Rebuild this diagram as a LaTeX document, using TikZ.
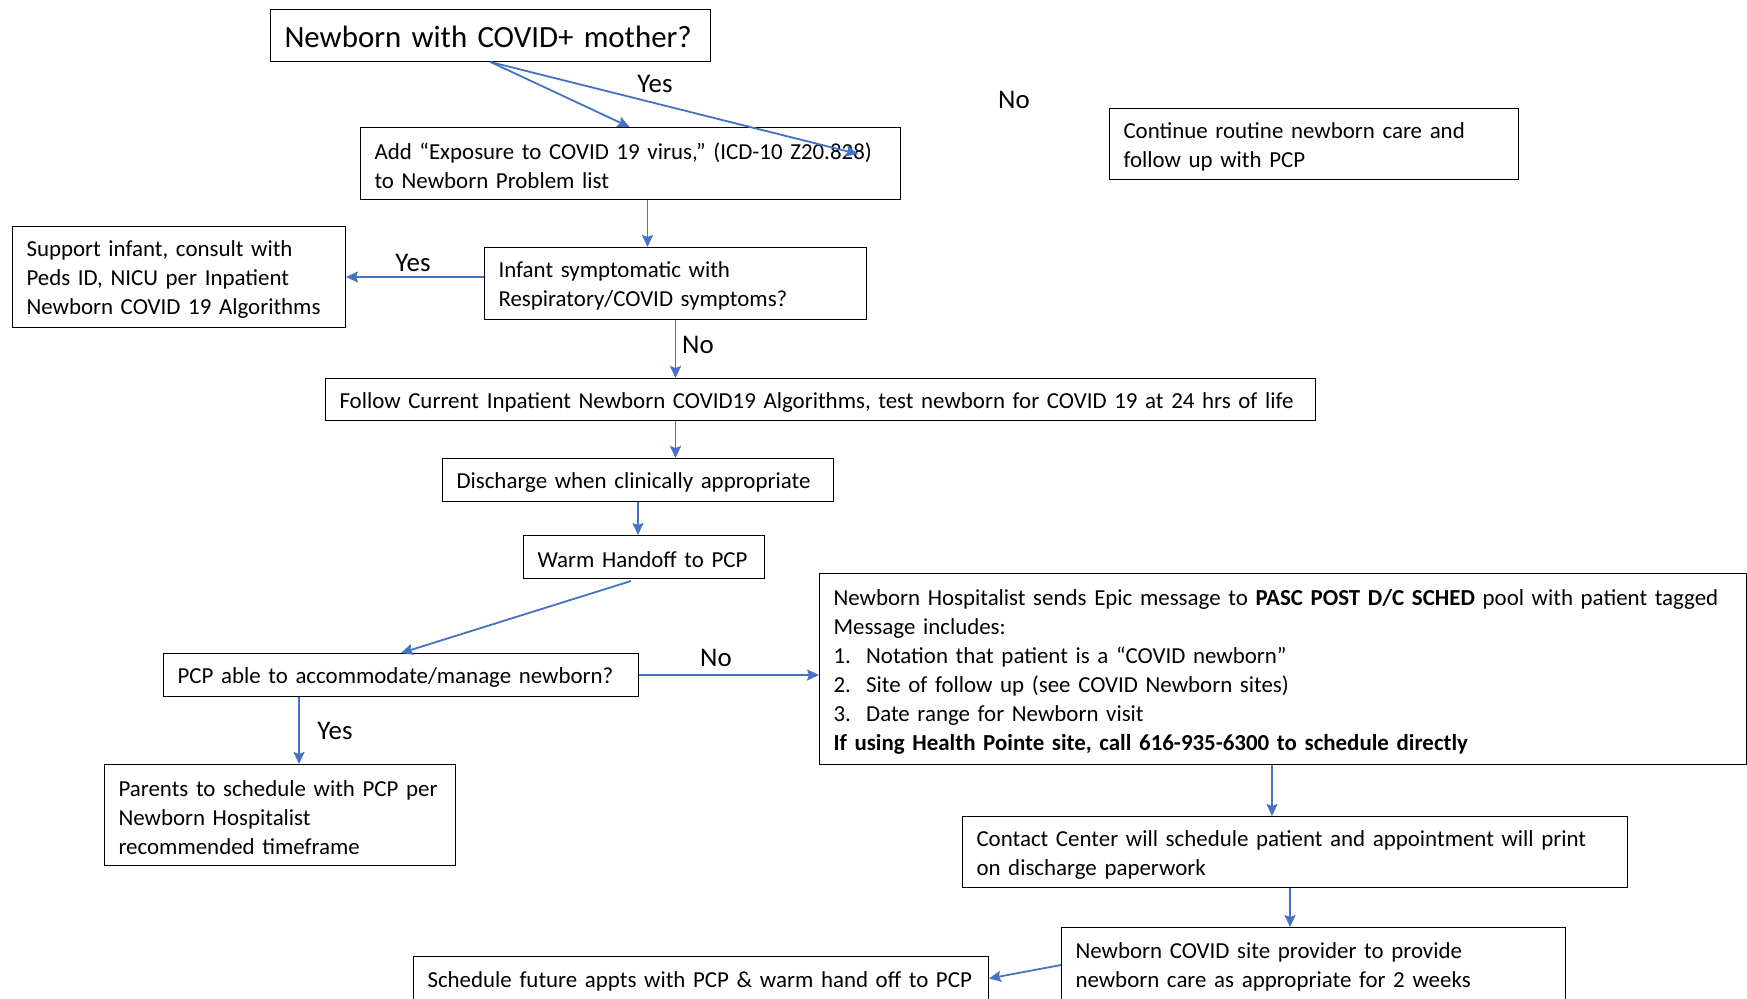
\documentclass[tikz,border=0pt]{standalone}
\usepackage{fontspec}
\setmainfont{Carlito}
\usetikzlibrary{arrows.meta,positioning}
\definecolor{arrowblue}{HTML}{4472C4}
\tikzstyle{box} = [draw=black, line width=1bp, anchor=north west, align=left, inner xsep=14bp, inner ysep=0pt, font=\fontsize{23}{29}\selectfont, execute at begin node={\rule{0pt}{21.5bp}}]
\tikzstyle{lbl} = [font=\fontsize{27}{32}\selectfont]
\tikzstyle{arrow} = [line width=1.8bp, draw=arrowblue, -{Stealth[length=12bp,width=11bp,inset=2bp]}]

\begin{document}
\begin{tikzpicture}[x=1bp, y=-1bp]
                    \useasboundingbox (0,0) rectangle (1747,998);
                    \clip (0,0) rectangle (1747,998);
                    \node (mother) [box, font=\fontsize{31}{37}\selectfont, execute at begin node={\rule{0pt}{25bp}}, text width=412bp, minimum height=52bp] at (270,9) {Newborn with COVID+ mother?};
                    \node (add) [box, text width=512bp, minimum height=72bp] at (360,127) {Add “Exposure to COVID 19 virus,” (ICD-10 Z20.828)\\to Newborn Problem list};
                    \node (routine) [box, text width=381bp, minimum height=71bp] at (1109,108) {Continue routine newborn care and\\follow up with PCP};
                    \node (support) [box, text width=305bp, minimum height=101bp] at (12,226) {Support infant, consult with\\Peds ID, NICU per Inpatient\\Newborn COVID 19 Algorithms};
                    \node (symptom) [box, text width=354bp, minimum height=72bp] at (484,247) {Infant symptomatic with\\Respiratory/COVID symptoms?};
                    \node (follow) [box, text width=962bp, minimum height=42bp] at (325,378) {Follow Current Inpatient Newborn COVID19 Algorithms, test newborn for COVID 19 at 24 hrs of life};
                    \node (discharge) [box, text width=363bp, minimum height=43bp] at (442,458) {Discharge when clinically appropriate};
                    \node (handoff) [box, text width=213bp, minimum height=43bp] at (523,535) {Warm Handoff to PCP};
                    \node (pcp) [box, text width=447bp, minimum height=43bp] at (163,653) {PCP able to accommodate/manage newborn?};
                    \node (message) [box, text width=899bp, minimum height=191bp] at (819,573) {Newborn Hospitalist sends Epic message to \textbf{PASC POST D/C SCHED} pool with patient tagged\\Message includes:\\1.\ \ Notation that patient is a “COVID newborn”\\2.\ \ Site of follow up (see COVID Newborn sites)\\3.\ \ Date range for Newborn visit\\\textbf{If using Health Pointe site, call 616-935-6300 to schedule directly}};
                    \node (parents) [box, text width=323bp, minimum height=101bp] at (104,764) {Parents to schedule with PCP per\\Newborn Hospitalist\\recommended timeframe};
                    \node (contact) [box, text width=637bp, minimum height=71bp] at (962,816) {Contact Center will schedule patient and appointment will print\\on discharge paperwork};
                    \node (site) [box, text width=476bp, minimum height=73bp] at (1061,927) {Newborn COVID site provider to provide\\newborn care as appropriate for 2 weeks};
                    \node (future) [box, text width=547bp, minimum height=44bp] at (413,956) {Schedule future appts with PCP \& warm hand off to PCP};
                    \coordinate (yesend) at (858,154);
                    \node (yesA) [lbl] at (655,84) {Yes};
                    \node (noA) [lbl] at (1014,100) {No};
                    \node (yesB) [lbl] at (413,263) {Yes};
                    \node (noB) [lbl] at (698,345) {No};
                    \node (noC) [lbl] at (716,658) {No};
                    \node (yesC) [lbl] at (335,731) {Yes};
                    \draw [arrow] (mother.south) -- ([xshift=-1bp]add.north);
                    \draw [arrow] (mother.south) -- (yesend);
                    \draw [arrow] ([xshift=17bp]add.south) -- ([xshift=17bp]add.south |- symptom.north);
                    \draw [arrow] (symptom.west |- support.east) -- (support.east);
                    \draw [arrow] (symptom.south) -- (symptom.south |- follow.north);
                    \draw [arrow] (symptom.south |- follow.south) -- (symptom.south |- discharge.north);
                    \draw [arrow] (discharge.south) -- (discharge.south |- handoff.north);
                    \draw [arrow] ([xshift=-13bp,yshift=-2bp]handoff.south) -- (pcp.north);
                    \draw [arrow] (pcp.east) -- (pcp.east -| message.west);
                    \draw [arrow] ([xshift=-102bp]pcp.south) -- ([xshift=-102bp]pcp.south |- parents.north);
                    \draw [arrow] ([xshift=-11bp]message.south) -- ([xshift=-11bp]message.south |- contact.north);
                    \draw [arrow] ([xshift=-5bp]contact.south) -- ([xshift=-5bp]contact.south |- site.north);
                    \draw [arrow] ([yshift=-1bp]site.west) -- (future.east);
                \end{tikzpicture}
\end{document}
